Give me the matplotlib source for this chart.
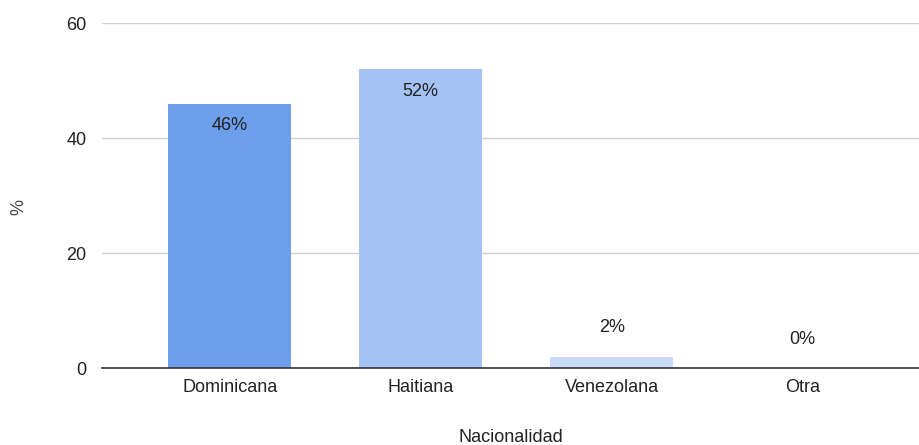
import numpy as np
import matplotlib.pyplot as plt
import matplotlib

matplotlib.rcParams['font.family'] = 'Liberation Sans'

# Datos
categorias = ['Dominicana', 'Haitiana', 'Venezolana', 'Otra']
valores = [46, 52, 2, 0]
colores = ['#6d9eeb', '#a4c2f4', '#c9daf8', '#dbe6fa']

fig = plt.figure(figsize=(9.19, 4.45), dpi=100)
ax = fig.add_axes([0.111, 0.173, 0.889, 0.775])

x = np.arange(len(categorias))
ax.bar(x, valores, width=0.645, color=colores, zorder=3)

for xi, v in zip(x, valores):
    if v > 10:
        ax.annotate(f'{v}%', (xi, v), xytext=(0, -22), textcoords='offset pixels',
                    ha='center', va='center', fontsize=13, color='#222222', zorder=4)
    else:
        ax.annotate(f'{v}%', (xi, v), xytext=(0, 29), textcoords='offset pixels',
                    ha='center', va='center', fontsize=13, color='#222222', zorder=4)

ax.set_xlim(-0.67, 3.61)
ax.set_ylim(0, 60)
ax.set_yticks([0, 20, 40, 60])
ax.set_xticks(x)
ax.set_xticklabels(categorias)
ax.tick_params(axis='both', length=0, labelsize=13, colors='#222222')
ax.tick_params(axis='y', pad=11)
ax.tick_params(axis='x', pad=8)

ax.grid(axis='y', color='#d0d0d0', linewidth=1, zorder=0)
for s in ['top', 'right', 'left']:
    ax.spines[s].set_visible(False)
ax.spines['bottom'].set_color('#333333')
ax.spines['bottom'].set_linewidth(1.2)
ax.spines['bottom'].set_zorder(5)

ax.set_xlabel('Nacionalidad', fontsize=13, color='#222222', labelpad=24)
fig.text(0.02, 0.535, '%', rotation=90, fontsize=13, color='#444444', ha='center', va='center')

fig.savefig('out.png', dpi=100)
